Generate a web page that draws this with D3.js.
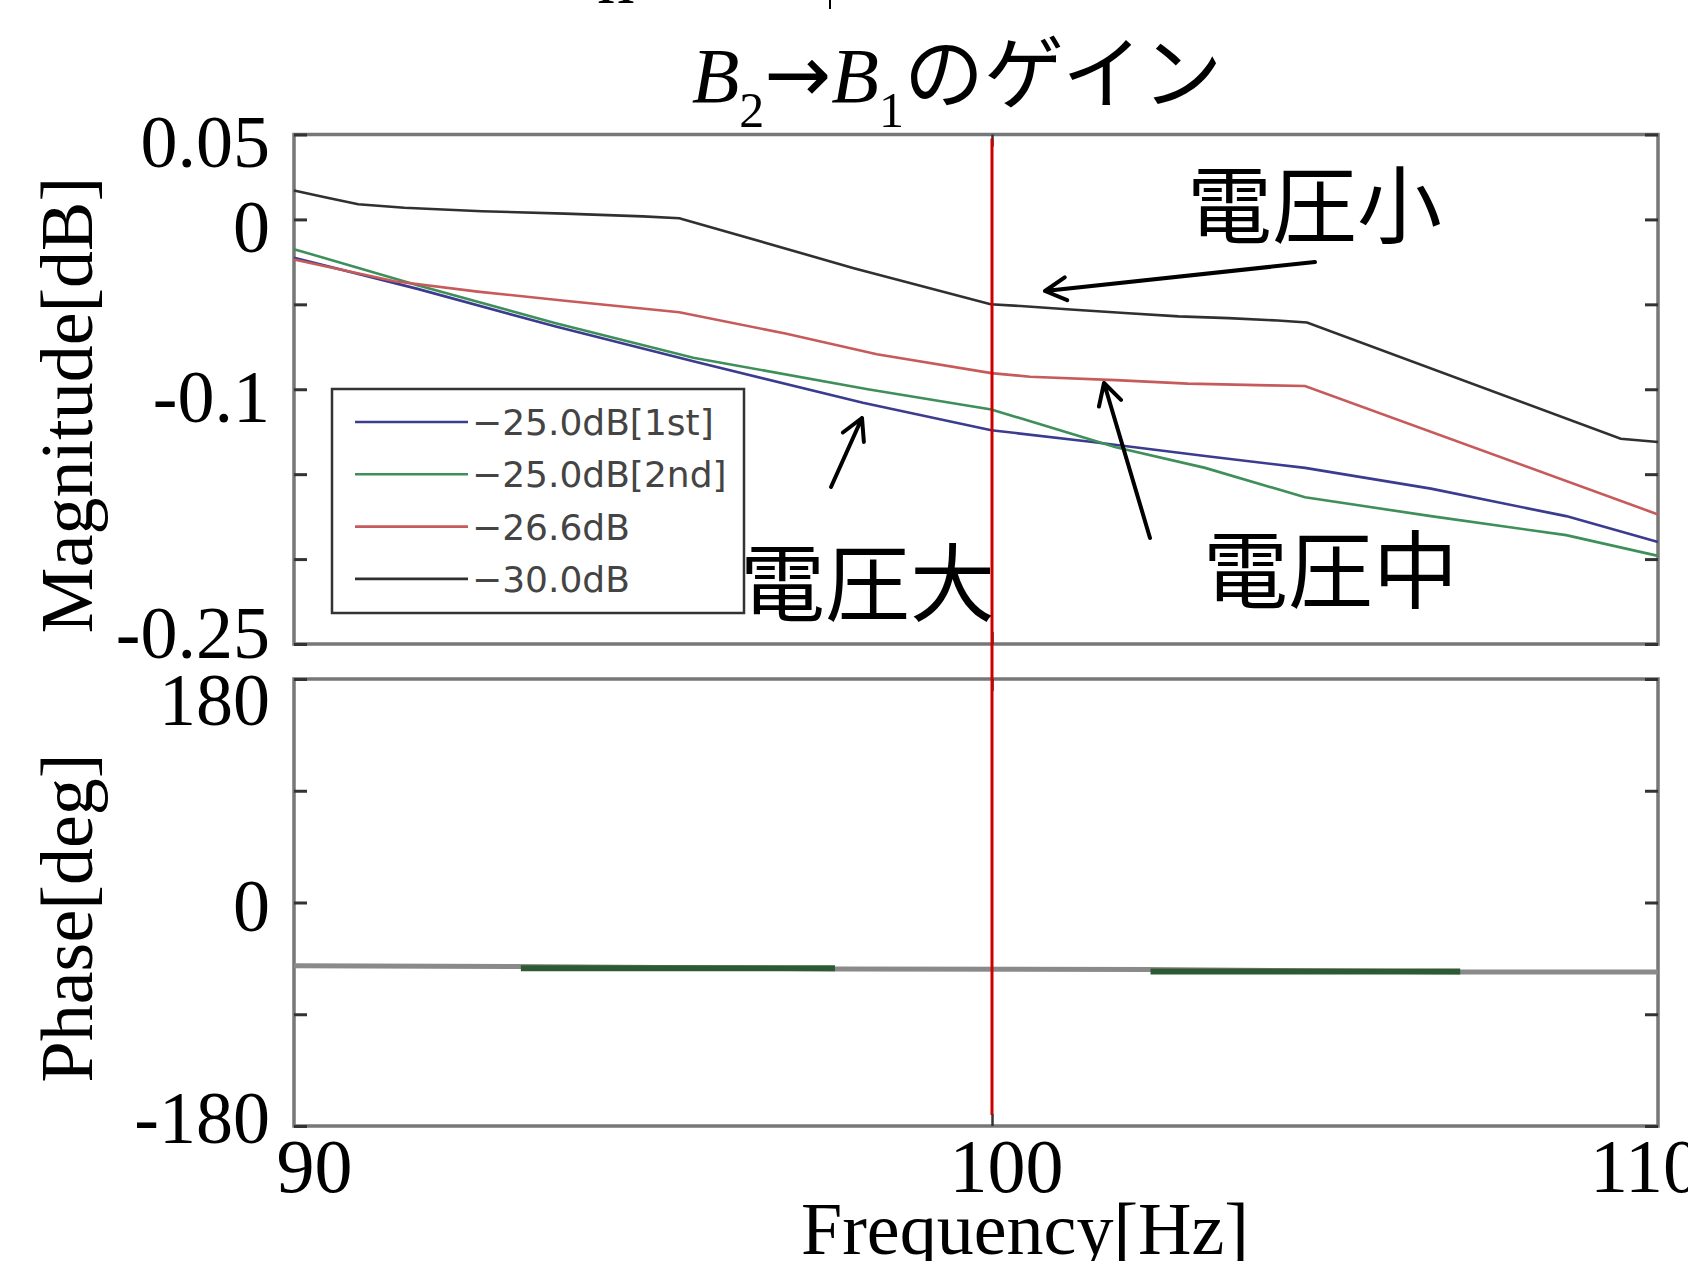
<!DOCTYPE html>
<html>
<head>
<meta charset="utf-8">
<script src="https://cdn.jsdelivr.net/npm/d3@7"></script>
<style>
  body { margin: 0; background: #fff; }
  svg { display: block; }
  .serif { font-family: "Liberation Serif", "Times New Roman", serif; }
  .jp { font-family: "Noto Sans CJK JP", sans-serif; }
</style>
</head>
<body>
<div id="chart"></div>
<script>
// ---- data ----
let freqTicks = [90, 100, 110];
let magTicks = [0.05, 0, -0.05, -0.1, -0.15, -0.2, -0.25];
let magTickLabels = ["0.05", "0", "", "-0.1", "", "", "-0.25"];
let phaseTicks = [180, 90, 0, -90, -180];
let phaseTickLabels = ["180", "", "0", "", "-180"];

let seriesNames = ["\u221225.0dB[1st]", "\u221225.0dB[2nd]", "\u221226.6dB", "\u221230.0dB"];
let seriesColors = ["#3b3b8f", "#3f8f5a", "#c75a5a", "#303030"];

// -25.0dB [1st]
let freq1st = [90, 91.77, 93.75, 95.72, 98.15, 99.99, 101.51, 103.2, 104.7, 106.59, 108.62, 110];
let mag1st = [-0.0226, -0.0409, -0.0631, -0.0835, -0.108, -0.1241, -0.1311, -0.1393, -0.1463, -0.1585, -0.1747, -0.19];
// -25.0dB [2nd]
let freq2nd = [90, 91.77, 93.75, 95.72, 98.22, 99.99, 101.86, 103.2, 104.7, 106.59, 108.62, 110];
let mag2nd = [-0.0175, -0.0388, -0.0611, -0.0814, -0.1, -0.1119, -0.1342, -0.1463, -0.1636, -0.1747, -0.1859, -0.1981];
// -26.6dB
let freq266 = [90, 91.44, 92.63, 93.88, 95.52, 97.04, 98.35, 99.99, 100.57, 101.86, 102.94, 104.16, 104.7, 110];
let mag266 = [-0.0236, -0.0364, -0.0425, -0.0479, -0.0547, -0.0672, -0.0794, -0.0905, -0.0926, -0.0946, -0.0967, -0.0977, -0.0981, -0.1737];
// -30.0dB
let freq30 = [90, 90.46, 90.92, 91.58, 92.69, 93.88, 95.0, 95.52, 98.02, 99.98, 100.43, 101.18, 101.99, 102.8, 103.55, 104.29, 104.73, 109.44, 110];
let mag30 = [0.017, 0.0129, 0.0089, 0.0069, 0.0048, 0.0034, 0.0018, 0.0007, -0.0287, -0.05, -0.051, -0.053, -0.0551, -0.0571, -0.0581, -0.0595, -0.0607, -0.1291, -0.1311];

// phase: all curves lie on top of each other, green shows through in two spans
let phaseFreq = [90, 93.25, 97.75, 102.38, 107.03, 110];
let phaseAll = [-51, -51.5, -53.5, -54, -56, -56];
let phaseGreenFreq = [93.25, 97.75, 102.38, 107.03];
let phaseGreen = [-53, -53, -55.5, -55.5];
let phaseGreenSeg = [0, 0, 1, 1];

let markerFreq = 100;

let notes = ["電圧小", "電圧中", "電圧大"];

(function() {

  let W = 1688, H = 1261;
  let left = 294, right = 1658;

  let svg = d3.select("#chart")
    .append("svg")
      .attr("width", W)
      .attr("height", H);

  // the figure is not quite linear in x: 100 Hz sits a bit right of centre
  let x = d3.scaleLinear()
      .domain([90, 100, 110])
      .range([left, 992, right]);

  let yMag = d3.scaleLinear().domain([-0.25, 0.05]).range([644, 134.5]);
  let yPh = d3.scaleLinear().domain([-180, 180]).range([1126, 679]);

  function series(fs, vs) {
    return fs.map(function(f, i) { return { f: f, v: vs[i] }; });
  }

  let magData = [
    series(freq1st, mag1st),
    series(freq2nd, mag2nd),
    series(freq266, mag266),
    series(freq30, mag30)
  ];

  function frame(y) {
    svg.append("rect")
      .attr("x", left)
      .attr("y", y.range()[1])
      .attr("width", right - left)
      .attr("height", y.range()[0] - y.range()[1])
      .attr("fill", "none")
      .attr("stroke", "#777")
      .attr("stroke-width", 3.5);
  }

  function sideTicks(y, ticks, labels, labelDy) {
    // inward ticks on left (with labels) and right
    let gl = svg.append("g")
      .attr("transform", "translate(" + left + ",0)")
      .call(d3.axisLeft(y).tickValues(ticks).tickSizeInner(-13).tickSizeOuter(0).tickPadding(24)
        .tickFormat(function(d, i) { return labels[i]; }));
    gl.select(".domain").remove();
    gl.selectAll(".tick line").attr("stroke", "#333").attr("stroke-width", 3);
    gl.selectAll(".tick text")
      .attr("class", "serif")
      .attr("font-size", 74)
      .attr("fill", "#000")
      .attr("dy", 0)
      .attr("y", labelDy);

    let gr = svg.append("g")
      .attr("transform", "translate(" + right + ",0)")
      .call(d3.axisRight(y).tickValues(ticks).tickSizeInner(-13).tickSizeOuter(0).tickFormat(""));
    gr.select(".domain").remove();
    gr.selectAll(".tick line").attr("stroke", "#333").attr("stroke-width", 3);
  }

  function xTicks(y) {
    let gt = svg.append("g")
      .attr("transform", "translate(0," + y.range()[1] + ")")
      .call(d3.axisTop(x).tickValues([markerFreq]).tickSizeInner(-12).tickSizeOuter(0).tickFormat(""));
    gt.select(".domain").remove();
    gt.selectAll(".tick line").attr("stroke", "#333").attr("stroke-width", 2.5);
    let gb = svg.append("g")
      .attr("transform", "translate(0," + y.range()[0] + ")")
      .call(d3.axisBottom(x).tickValues([markerFreq]).tickSizeInner(-12).tickSizeOuter(0).tickFormat(""));
    gb.select(".domain").remove();
    gb.selectAll(".tick line").attr("stroke", "#333").attr("stroke-width", 2.5);
  }

  // ---- magnitude panel ----
  frame(yMag);
  sideTicks(yMag, magTicks, magTickLabels, function(d) { return d === -0.25 ? 13 : 32; });
  xTicks(yMag);

  let magLine = d3.line()
      .x(function(d) { return x(d.f); })
      .y(function(d) { return yMag(d.v); });

  svg.append("g")
    .selectAll("path")
    .data(magData)
    .enter()
    .append("path")
      .attr("d", magLine)
      .attr("fill", "none")
      .attr("stroke", function(d, i) { return seriesColors[i]; })
      .attr("stroke-width", 2.6);

  // ---- phase panel ----
  frame(yPh);
  sideTicks(yPh, phaseTicks, phaseTickLabels, function(d) { return d === 180 ? 45 : (d === -180 ? 16 : 28); });
  xTicks(yPh);

  let phLine = d3.line()
      .x(function(d) { return x(d.f); })
      .y(function(d) { return yPh(d.v); });

  svg.append("path")
    .datum(series(phaseFreq, phaseAll))
    .attr("d", phLine)
    .attr("fill", "none")
    .attr("stroke", "#8a8a8a")
    .attr("stroke-width", 5);

  let greenSegs = d3.groups(series(phaseGreenFreq, phaseGreen), function(d) { return phaseGreenSeg[phaseGreenFreq.indexOf(d.f)]; });
  svg.append("g")
    .selectAll("path")
    .data(greenSegs)
    .enter()
    .append("path")
      .attr("d", function(d) { return phLine(d[1]); })
      .attr("fill", "none")
      .attr("stroke", "#2d5a33")
      .attr("stroke-width", 6);

  // x labels under the phase panel
  let gx = svg.append("g")
    .attr("transform", "translate(0," + yPh.range()[0] + ")")
    .call(d3.axisBottom(x).tickValues(freqTicks).tickSize(0).tickPadding(12).tickFormat(d3.format("d")));
  gx.select(".domain").remove();
  gx.selectAll(".tick text")
    .attr("class", "serif")
    .attr("font-size", 76)
    .attr("fill", "#000")
    .attr("dx", function(d, i) { return [20, 14, -13][i]; });

  // ---- red marker line at 100 Hz ----
  svg.append("line")
    .attr("x1", x(markerFreq)).attr("x2", x(markerFreq))
    .attr("y1", yMag(0.05) + 4).attr("y2", yPh(-180) - 11)
    .attr("stroke", "#cc0000")
    .attr("stroke-width", 3);

  // ---- legend ----
  let legend = svg.append("g").attr("transform", "translate(332,389)");
  legend.append("rect")
    .attr("width", 412).attr("height", 224)
    .attr("fill", "#fff")
    .attr("stroke", "#333")
    .attr("stroke-width", 2.5);
  let rows = legend.selectAll("g.row")
    .data(seriesNames)
    .enter()
    .append("g")
      .attr("class", "row")
      .attr("transform", function(d, i) { return "translate(0," + (33 + i * 52.3) + ")"; });
  rows.append("line")
    .attr("x1", 23).attr("x2", 136)
    .attr("stroke", function(d, i) { return seriesColors[i]; })
    .attr("stroke-width", 2.6);
  rows.append("text")
    .attr("x", 140)
    .attr("y", 13)
    .attr("font-family", "DejaVu Sans, sans-serif")
    .attr("font-size", 36)
    .attr("fill", "#444")
    .text(function(d) { return d; });

  // ---- annotations ----
  let notePos = [[1187, 237], [1203, 602], [740, 615]];
  svg.selectAll("text.note")
    .data(notes)
    .enter()
    .append("text")
      .attr("class", "note jp")
      .attr("x", function(d, i) { return notePos[i][0]; })
      .attr("y", function(d, i) { return notePos[i][1]; })
      .attr("font-size", 85)
      .attr("fill", "#000")
      .text(function(d) { return d; });

  function arrow(x1, y1, x2, y2) {
    let a = Math.atan2(y2 - y1, x2 - x1), L = 24, s = 0.5;
    let p = d3.path();
    p.moveTo(x1, y1); p.lineTo(x2, y2);
    p.moveTo(x2 - L * Math.cos(a - s), y2 - L * Math.sin(a - s));
    p.lineTo(x2, y2);
    p.lineTo(x2 - L * Math.cos(a + s), y2 - L * Math.sin(a + s));
    svg.append("path")
      .attr("d", p.toString())
      .attr("fill", "none")
      .attr("stroke", "#000")
      .attr("stroke-width", 4)
      .attr("stroke-linecap", "round")
      .attr("stroke-linejoin", "round");
  }
  arrow(1315, 262, 1045, 291);
  arrow(1150, 538, 1104, 383);
  arrow(831, 487, 862, 418);

  // ---- titles ----
  let title = svg.append("text")
    .attr("class", "serif")
    .attr("x", 957)
    .attr("y", 102)
    .attr("text-anchor", "middle")
    .attr("font-size", 78);
  title.append("tspan").attr("font-style", "italic").text("B");
  title.append("tspan").attr("font-size", 50).attr("dy", 25).text("2");
  title.append("tspan").attr("dy", -25).attr("font-family", "DejaVu Sans, sans-serif").attr("font-size", 80).text("\u2192");
  title.append("tspan").attr("font-style", "italic").text("B");
  title.append("tspan").attr("font-size", 50).attr("dy", 25).text("1");
  title.append("tspan").attr("class", "jp").attr("dy", -25).attr("font-size", 80).text("のゲイン");

  svg.append("text")
    .attr("class", "serif")
    .attr("transform", "translate(92,405) rotate(-90)")
    .attr("text-anchor", "middle")
    .attr("font-size", 74)
    .text("Magnitude[dB]");

  svg.append("text")
    .attr("class", "serif")
    .attr("transform", "translate(92,918) rotate(-90)")
    .attr("text-anchor", "middle")
    .attr("font-size", 74)
    .text("Phase[deg]");

  svg.append("text")
    .attr("class", "serif")
    .attr("x", 1025)
    .attr("y", 1254)
    .attr("text-anchor", "middle")
    .attr("font-size", 74)
    .text("Frequency[Hz]");

  // cut-off line of text at the very top of the picture
  svg.append("text")
    .attr("class", "serif")
    .attr("x", 597)
    .attr("y", 3)
    .attr("font-size", 75)
    .text("n");
  svg.append("line")
    .attr("x1", 830).attr("x2", 830)
    .attr("y1", 0).attr("y2", 9)
    .attr("stroke", "#000")
    .attr("stroke-width", 2);

})();
</script>
</body>
</html>
